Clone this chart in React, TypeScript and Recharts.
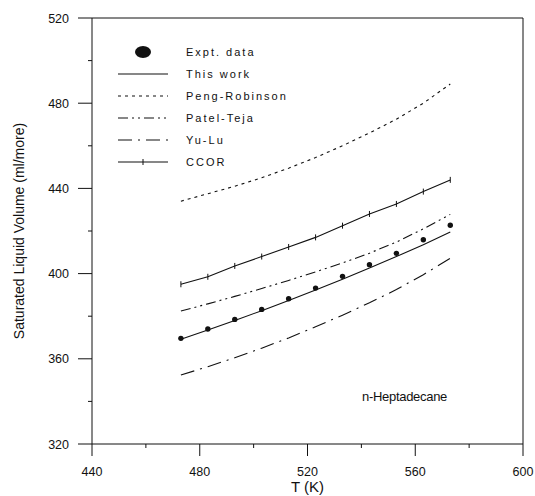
import React from 'react';
import { ComposedChart, Line, Scatter, XAxis, YAxis, Legend, Label, ReferenceLine } from 'recharts';

const temps = [473, 483, 493, 503, 513, 523, 533, 543, 553, 563, 573];
const expt = [369.6, 374.0, 378.5, 383.2, 388.2, 393.2, 398.7, 404.2, 409.5, 415.9, 422.7];
const thisWork = [369.2, 373.5, 378.0, 382.6, 387.4, 392.3, 397.4, 402.6, 408.0, 413.6, 419.5];
const pengRobinson = [434, 437.5, 441, 445, 449.5, 454.5, 460, 466, 472.5, 480, 489];
const patelTeja = [382.4, 385.8, 389.3, 393, 396.8, 400.8, 405, 409.6, 414.8, 421, 427.8];
const yuLu = [352.4, 356.3, 360.5, 365, 369.8, 375, 380.5, 386.3, 392.5, 399.5, 407.2];
const ccor = [395, 398.5, 403.6, 408, 412.5, 417, 422.5, 428, 432.7, 438.5, 444];

const xTicks = [440, 460, 480, 500, 520, 540, 560, 580, 600];
const yTicks = [320, 340, 360, 380, 400, 420, 440, 460, 480, 500, 520];

const data = temps.map((t, i) => ({
  t,
  expt: expt[i],
  thisWork: thisWork[i],
  pengRobinson: pengRobinson[i],
  patelTeja: patelTeja[i],
  yuLu: yuLu[i],
  ccor: ccor[i],
}));

const FONT = '"Liberation Sans", Arial, sans-serif';
const INK = '#111';

const legendItems = [
  { name: 'Expt. data', kind: 'dot', dash: '' },
  { name: 'This work', kind: 'line', dash: '' },
  { name: 'Peng-Robinson', kind: 'line', dash: '3 4' },
  { name: 'Patel-Teja', kind: 'line', dash: '10 4 2 4 2 4' },
  { name: 'Yu-Lu', kind: 'line', dash: '14 6 2 6' },
  { name: 'CCOR', kind: 'ccor', dash: '' },
];

const XTick = (props: any) => {
  const { x, y, payload } = props;
  const major = payload.value % 40 === 0;
  return (
    <g>
      <line x1={x} x2={x} y1={y} y2={y + (major ? 12 : 4)} stroke={INK} strokeWidth={1} />
      {major && (
        <text x={x} y={y + 32} textAnchor="middle" fontSize={12.5} fontFamily={FONT} fill={INK}>
          {payload.value}
        </text>
      )}
    </g>
  );
};

const YTick = (props: any) => {
  const { x, y, payload } = props;
  const major = payload.value % 40 === 0;
  return (
    <g>
      <line x1={x - (major ? 14 : 4)} x2={x} y1={y} y2={y} stroke={INK} strokeWidth={1} />
      {major && (
        <text x={x - 23} y={y + 4.5} textAnchor="end" fontSize={12.5} fontFamily={FONT} fill={INK}>
          {payload.value}
        </text>
      )}
    </g>
  );
};

const CcorDot = (props: any) => {
  const { cx, cy } = props;
  if (cx == null || cy == null) return null;
  return <line x1={cx} x2={cx} y1={cy - 3} y2={cy + 3} stroke={INK} strokeWidth={1} />;
};

const ExptDot = (props: any) => {
  const { cx, cy } = props;
  if (cx == null || cy == null) return null;
  return <circle cx={cx} cy={cy} r={2.7} fill={INK} />;
};

const LegendBox = () => (
  <div style={{ fontFamily: FONT, fontSize: 11, color: INK, letterSpacing: 2 }}>
    {legendItems.map((it) => (
      <div key={it.name} style={{ display: 'flex', alignItems: 'center', height: 22 }}>
        <svg width={68} height={14} style={{ display: 'block' }}>
          {it.kind === 'dot' && <ellipse cx={25} cy={7} rx={8} ry={6} fill={INK} />}
          {it.kind !== 'dot' && (
            <line x1={0} x2={50} y1={7} y2={7} stroke={INK} strokeWidth={1.1} strokeDasharray={it.dash || undefined} />
          )}
          {it.kind === 'ccor' && <line x1={25} x2={25} y1={4} y2={10} stroke={INK} strokeWidth={1} />}
        </svg>
        <span>{it.name}</span>
      </div>
    ))}
  </div>
);

export default function App() {
  return (
    <div style={{ position: 'absolute', left: 0, top: 0, width: 535, height: 496, background: '#fff' }}>
      <ComposedChart
        width={535}
        height={496}
        data={data}
        margin={{ top: 18, right: 12, left: 0, bottom: 0 }}
      >
        <XAxis
          dataKey="t"
          type="number"
          domain={[440, 600]}
          ticks={xTicks}
          interval={0}
          height={52}
          tickLine={false}
          tickSize={0}
          tickMargin={0}
          tick={<XTick />}
          stroke={INK}
          allowDataOverflow
        >
          <Label value="T (K)" position="insideBottom" offset={4} style={{ fontFamily: FONT, fontSize: 15, fill: INK }} />
        </XAxis>
        <YAxis
          type="number"
          domain={[320, 520]}
          ticks={yTicks}
          interval={0}
          width={92}
          tickLine={false}
          tickSize={0}
          tickMargin={0}
          tick={<YTick />}
          stroke={INK}
          allowDataOverflow
        >
          <Label
            value="Saturated Liquid Volume (ml/more)"
            angle={-90}
            position="insideLeft"
            offset={19}
            style={{ fontFamily: FONT, fontSize: 14, fill: INK, textAnchor: 'middle' }}
          />
        </YAxis>
        <ReferenceLine y={520} stroke={INK} strokeWidth={1} ifOverflow="visible" />
        <ReferenceLine x={600} stroke={INK} strokeWidth={1} ifOverflow="visible" />
        <Legend
          layout="vertical"
          align="center"
          verticalAlign="middle"
          content={<LegendBox />}
          wrapperStyle={{ left: 118, top: 41, width: 220 }}
        />
        <Line dataKey="thisWork" name="This work" stroke={INK} strokeWidth={1.1} dot={false} isAnimationActive={false} />
        <Line dataKey="pengRobinson" name="Peng-Robinson" stroke={INK} strokeWidth={1.1} strokeDasharray="3 4" dot={false} isAnimationActive={false} />
        <Line dataKey="patelTeja" name="Patel-Teja" stroke={INK} strokeWidth={1.1} strokeDasharray="10 4 2 4 2 4" dot={false} isAnimationActive={false} />
        <Line dataKey="yuLu" name="Yu-Lu" stroke={INK} strokeWidth={1.1} strokeDasharray="14 6 2 6" dot={false} isAnimationActive={false} />
        <Line dataKey="ccor" name="CCOR" stroke={INK} strokeWidth={1.1} dot={<CcorDot />} isAnimationActive={false} />
        <Scatter dataKey="expt" name="Expt. data" fill={INK} shape={<ExptDot />} isAnimationActive={false} />
      </ComposedChart>
      <div
        style={{
          position: 'absolute',
          left: 362,
          top: 389,
          fontFamily: FONT,
          fontSize: 13,
          color: INK,
          letterSpacing: -0.3,
        }}
      >
        n-Heptadecane
      </div>
    </div>
  );
}
